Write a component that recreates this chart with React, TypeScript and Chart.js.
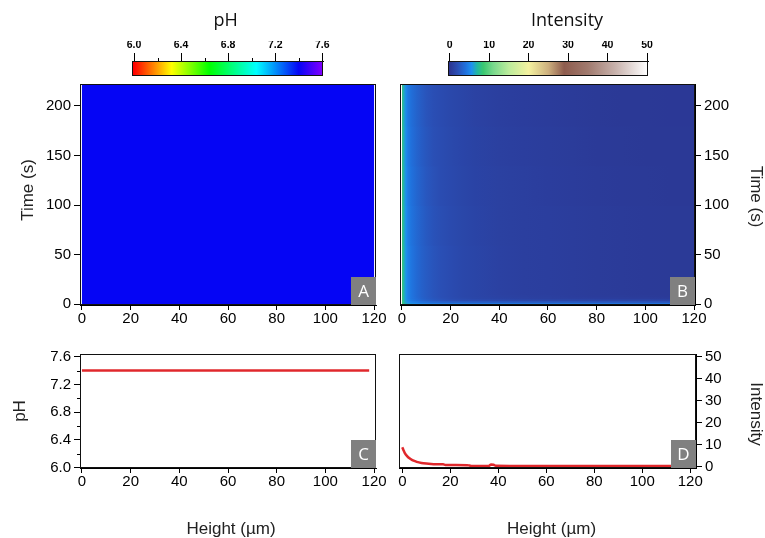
import React, { useEffect, useRef } from "react";
import { Chart, registerables } from "chart.js";

Chart.register(...registerables);

// ---------- tick labels ----------
const heightTicks = [0, 20, 40, 60, 80, 100, 120];
const timeTicks = [0, 50, 100, 150, 200];
const phTicks = [6.0, 6.4, 6.8, 7.2, 7.6];
const phMinorTicks = [6.2, 6.6, 7.0, 7.4];
const intensityTicks = [0, 10, 20, 30, 40, 50];

// ---------- colour scales ----------
const phScaleValues = [6.0, 6.16, 6.32, 6.64, 7.04, 7.4, 7.6];
const phScaleColors = ["#ff0000", "#ff8000", "#ffff00", "#00ff00", "#00ffff", "#0505f5", "#8000ff"];
const intScaleValues = [0, 2, 4, 5.5, 7, 8.5, 11, 15, 20, 25, 29, 35, 42, 50];
const intScaleColors = [
  "#2b3591", "#2a4fb5", "#2070dc", "#1e90f0", "#22b8a0", "#3ac870", "#78d88c",
  "#bcec9c", "#f4f2a0", "#cdb07e", "#8e5c4e", "#a07a6e", "#c8b2ac", "#ffffff",
];

// ---------- panel A : pH map ----------
const phMapHeights = [0, 120];
const phMapTimeEdges = [0, 222];
const phMapValues = [[7.4, 7.4]];

// ---------- panel B : intensity map ----------
const intMapHeights = [0, 0.8, 1.6, 2.5, 4, 6, 8, 10, 13, 16, 20, 25, 30, 40, 50, 60, 70, 80, 90, 100, 110, 120];
const intMapTimeEdges = [0, 2, 4, 6, 8, 10, 60, 100, 140, 180, 222];
const intMapValues = [
  [8.8, 7.6, 6.6, 6.1, 5.8, 5.5, 5.3, 5.1, 5.0, 4.9, 4.8, 4.8, 4.7, 4.7, 4.6, 4.6, 4.6, 4.6, 4.5, 4.5, 4.5, 4.5],
  [8.7, 7.2, 6.1, 5.4, 4.9, 4.5, 4.1, 3.8, 3.5, 3.3, 3.1, 3.0, 2.9, 2.8, 2.7, 2.7, 2.6, 2.6, 2.6, 2.5, 2.5, 2.5],
  [8.6, 6.9, 5.8, 5.0, 4.4, 3.9, 3.4, 3.0, 2.6, 2.3, 2.0, 1.8, 1.7, 1.5, 1.4, 1.3, 1.3, 1.2, 1.2, 1.2, 1.1, 1.1],
  [8.5, 6.8, 5.6, 4.8, 4.2, 3.7, 3.2, 2.8, 2.4, 2.1, 1.8, 1.5, 1.3, 1.1, 0.95, 0.85, 0.75, 0.7, 0.65, 0.6, 0.55, 0.55],
  [8.5, 6.8, 5.6, 4.8, 4.2, 3.6, 3.1, 2.7, 2.3, 2.0, 1.7, 1.4, 1.2, 1.0, 0.85, 0.75, 0.65, 0.55, 0.5, 0.45, 0.4, 0.4],
  [8.5, 6.8, 5.6, 4.8, 4.2, 3.6, 3.1, 2.7, 2.3, 2.0, 1.7, 1.4, 1.2, 0.95, 0.8, 0.7, 0.6, 0.5, 0.45, 0.4, 0.35, 0.35],
  [8.4, 6.7, 5.5, 4.7, 4.1, 3.5, 3.0, 2.6, 2.2, 1.9, 1.6, 1.35, 1.15, 0.9, 0.75, 0.7, 0.6, 0.5, 0.45, 0.4, 0.35, 0.35],
  [8.3, 6.6, 5.4, 4.6, 4.0, 3.4, 2.9, 2.5, 2.1, 1.8, 1.55, 1.3, 1.1, 0.9, 0.75, 0.65, 0.55, 0.45, 0.4, 0.35, 0.3, 0.3],
  [8.2, 6.5, 5.3, 4.5, 3.9, 3.3, 2.8, 2.4, 2.0, 1.75, 1.5, 1.25, 1.05, 0.85, 0.7, 0.6, 0.5, 0.4, 0.35, 0.3, 0.28, 0.28],
  [8.1, 6.4, 5.2, 4.4, 3.8, 3.2, 2.7, 2.3, 1.95, 1.7, 1.45, 1.2, 1.0, 0.8, 0.65, 0.55, 0.45, 0.35, 0.3, 0.28, 0.25, 0.25],
];

// ---------- panel C : pH profile ----------
const phProfileHeights = [0, 20, 40, 60, 80, 100, 118];
const phProfile = [7.4, 7.4, 7.4, 7.4, 7.4, 7.4, 7.4];

// ---------- panel D : intensity profile ----------
const intProfileHeights = [0, 0.5, 1, 2, 3, 4, 5, 6, 8, 10, 12, 14, 17, 18, 22, 27, 28, 29, 33, 36, 37, 38, 39, 45, 60, 80, 100, 120];
const intProfile = [8.8, 7.5, 6.3, 4.8, 3.8, 3.1, 2.6, 2.2, 1.7, 1.4, 1.2, 1.1, 1.05, 0.8, 0.75, 0.7, 0.5, 0.3, 0.3, 0.35, 1.0, 0.9, 0.4, 0.35, 0.3, 0.3, 0.3, 0.3];

// ---------- helpers ----------
const W = 765;
const H = 538;
const TICK_FAMILY = "'Liberation Sans', Arial, Helvetica, sans-serif";
const TITLE_FAMILY = "'Open Sans', 'Liberation Sans', sans-serif";

function hexToRgb(h: string) {
  const n = parseInt(h.slice(1), 16);
  return [(n >> 16) & 255, (n >> 8) & 255, n & 255];
}
function colorAt(v: number, vals: number[], cols: string[]) {
  if (v <= vals[0]) return cols[0];
  if (v >= vals[vals.length - 1]) return cols[cols.length - 1];
  for (let i = 1; i < vals.length; i++) {
    if (v <= vals[i]) {
      const t = (v - vals[i - 1]) / (vals[i] - vals[i - 1]);
      const a = hexToRgb(cols[i - 1]);
      const b = hexToRgb(cols[i]);
      const c = a.map((x, k) => Math.round(x + (b[k] - x) * t));
      return `rgb(${c[0]},${c[1]},${c[2]})`;
    }
  }
  return cols[cols.length - 1];
}

function drawText(ctx: any, s: string, x: number, y: number, font: string, color: string, rot = 0, baseline = "middle") {
  ctx.save();
  ctx.translate(x, y);
  ctx.rotate(rot);
  ctx.font = font;
  ctx.fillStyle = color;
  ctx.textAlign = "center";
  ctx.textBaseline = baseline;
  ctx.fillText(s, 0, 0);
  ctx.restore();
}

function axis(o: {
  position: string; min: number; max: number; ticks: number[]; size: number;
  fontSize?: number; tickLength?: number; padding?: number; digits?: number; display?: boolean; weight?: string;
}) {
  if (o.display === false) return { type: "linear", display: false, min: o.min, max: o.max };
  return {
    type: "linear",
    position: o.position,
    min: o.min,
    max: o.max,
    afterBuildTicks: (s: any) => {
      s.ticks = o.ticks.map((v) => ({ value: v }));
    },
    afterFit: (s: any) => {
      if (s.isHorizontal()) s.height = o.size;
      else s.width = o.size;
    },
    grid: {
      display: true,
      drawOnChartArea: false,
      drawTicks: true,
      tickLength: o.tickLength ?? 6,
      color: "#000",
      tickColor: "#000",
      lineWidth: 1,
    },
    border: { display: true, color: "#000", width: 1 },
    ticks: {
      autoSkip: false,
      maxRotation: 0,
      minRotation: 0,
      padding: o.padding ?? 3,
      color: "#000",
      font: { family: TICK_FAMILY, size: o.fontSize ?? 15, weight: o.weight ?? "normal" },
      callback: (v: any) => (o.digits ? Number(v).toFixed(o.digits) : String(v)),
    },
  };
}

function heatmap(chart: any, heights: number[], edges: number[], grid: number[][], vals: number[], cols: string[]) {
  const { ctx, chartArea, scales } = chart;
  const x = scales.x;
  const y = scales.y;
  ctx.save();
  ctx.beginPath();
  ctx.rect(chartArea.left, chartArea.top, chartArea.right - chartArea.left, chartArea.bottom - chartArea.top);
  ctx.clip();
  const x0 = x.getPixelForValue(heights[0]);
  const x1 = x.getPixelForValue(heights[heights.length - 1]);
  grid.forEach((row, r) => {
    const yb = y.getPixelForValue(edges[r]);
    const yt = y.getPixelForValue(edges[r + 1]);
    const g = ctx.createLinearGradient(x0, 0, x1, 0);
    heights.forEach((h, i) => {
      const px = x.getPixelForValue(h);
      g.addColorStop(Math.min(1, Math.max(0, (px - x0) / (x1 - x0))), colorAt(row[i], vals, cols));
    });
    ctx.fillStyle = g;
    ctx.fillRect(x0, yt, x1 - x0, yb - yt + (r > 0 ? 1 : 0));
  });
  ctx.restore();
}

function frame(chart: any) {
  const { ctx, chartArea } = chart;
  ctx.save();
  ctx.strokeStyle = "#111";
  ctx.lineWidth = 1;
  const l = Math.round(chartArea.left) + 0.5;
  const t = Math.round(chartArea.top) + 0.5;
  const r = Math.round(chartArea.right) - 0.5;
  const b = Math.round(chartArea.bottom) - 0.5;
  ctx.strokeRect(l, t, r - l, b - t);
  ctx.restore();
}

function letterBox(chart: any, letter: string) {
  const { ctx, chartArea } = chart;
  const w = 25;
  const h = 28;
  ctx.save();
  ctx.fillStyle = "#808080";
  ctx.fillRect(chartArea.right - w, chartArea.bottom - h, w, h);
  ctx.restore();
  drawText(ctx, letter, chartArea.right - w / 2, chartArea.bottom - h / 2 + 1, `17px ${TITLE_FAMILY}`, "#fff");
}

function pad(area: { left: number; right: number; top: number; bottom: number }, sides: { left?: number; right?: number; top?: number; bottom?: number }) {
  return {
    left: area.left - (sides.left ?? 0),
    right: W - area.right - (sides.right ?? 0),
    top: area.top - (sides.top ?? 0),
    bottom: H - area.bottom - (sides.bottom ?? 0),
  };
}

function baseOptions(padding: any, scales: any) {
  return {
    responsive: false,
    animation: false,
    devicePixelRatio: 1,
    events: [],
    layout: { padding },
    plugins: { legend: { display: false }, tooltip: { enabled: false }, title: { display: false } },
    scales,
  };
}

const AXIS_TITLE = `17px ${TICK_FAMILY}`;

function configA(): any {
  return {
    type: "scatter",
    data: { datasets: [] },
    options: baseOptions(pad({ left: 80, right: 376, top: 84, bottom: 305 }, { left: 40, bottom: 30 }), {
      x: axis({ position: "bottom", min: -0.8, max: 120.8, ticks: heightTicks, size: 30, tickLength: 5, padding: 0 }),
      y: axis({ position: "left", min: -0.7, max: 222, ticks: timeTicks, size: 40 }),
    }),
    plugins: [
      {
        id: "mapA",
        beforeDatasetsDraw: (c: any) => heatmap(c, phMapHeights, phMapTimeEdges, phMapValues, phScaleValues, phScaleColors),
        afterDatasetsDraw: (c: any) => {
          frame(c);
          letterBox(c, "A");
        },
        afterDraw: (c: any) => drawText(c.ctx, "Time (s)", 28.5, 190, AXIS_TITLE, "#222", -Math.PI / 2),
      },
    ],
  };
}

function configB(): any {
  return {
    type: "scatter",
    data: { datasets: [] },
    options: baseOptions(pad({ left: 400, right: 695, top: 84, bottom: 305 }, { right: 40, bottom: 30 }), {
      x: axis({ position: "bottom", min: -0.82, max: 120.41, ticks: heightTicks, size: 30, tickLength: 5, padding: 0 }),
      y: axis({ position: "right", min: -0.7, max: 222, ticks: timeTicks, size: 40 }),
    }),
    plugins: [
      {
        id: "mapB",
        beforeDatasetsDraw: (c: any) => heatmap(c, intMapHeights, intMapTimeEdges, intMapValues, intScaleValues, intScaleColors),
        afterDatasetsDraw: (c: any) => {
          frame(c);
          letterBox(c, "B");
        },
        afterDraw: (c: any) => drawText(c.ctx, "Time (s)", 755.5, 196.5, AXIS_TITLE, "#222", Math.PI / 2),
      },
    ],
  };
}

function lineDataset(xs: number[], ys: number[]) {
  return {
    data: xs.map((h, i) => ({ x: h, y: ys[i] })),
    showLine: true,
    borderColor: "#e0282c",
    borderWidth: 2.5,
    pointRadius: 0,
    cubicInterpolationMode: "monotone",
    fill: false,
  };
}

function configC(): any {
  return {
    type: "scatter",
    data: { datasets: [lineDataset(phProfileHeights, phProfile)] },
    options: baseOptions(pad({ left: 80, right: 376, top: 354, bottom: 468 }, { left: 40, bottom: 30 }), {
      x: axis({ position: "bottom", min: -0.8, max: 120.8, ticks: heightTicks, size: 30, tickLength: 5, padding: 0 }),
      y: axis({ position: "left", min: 5.996, max: 7.639, ticks: phTicks, size: 40, digits: 1 }),
    }),
    plugins: [
      {
        id: "decoC",
        afterDatasetsDraw: (c: any) => {
          frame(c);
          letterBox(c, "C");
        },
        afterDraw: (c: any) => {
          const { ctx, chartArea, scales } = c;
          ctx.save();
          ctx.strokeStyle = "#000";
          ctx.lineWidth = 1;
          phMinorTicks.forEach((v) => {
            const py = Math.round(scales.y.getPixelForValue(v)) + 0.5;
            ctx.beginPath();
            ctx.moveTo(chartArea.left - 3, py);
            ctx.lineTo(chartArea.left, py);
            ctx.stroke();
          });
          ctx.restore();
          drawText(ctx, "pH", 20, 411, AXIS_TITLE, "#222", -Math.PI / 2);
          drawText(ctx, "Height (µm)", 231, 529.5, AXIS_TITLE, "#222");
        },
      },
    ],
  };
}

function configD(): any {
  return {
    type: "scatter",
    data: { datasets: [lineDataset(intProfileHeights, intProfile)] },
    options: baseOptions(pad({ left: 399, right: 696, top: 354, bottom: 468 }, { right: 40, bottom: 30 }), {
      x: axis({ position: "bottom", min: -1.375, max: 122.4, ticks: heightTicks, size: 30, tickLength: 5, padding: 0 }),
      y: axis({ position: "right", min: -0.6, max: 51.2, ticks: intensityTicks, size: 40 }),
    }),
    plugins: [
      {
        id: "decoD",
        afterDatasetsDraw: (c: any) => {
          frame(c);
          letterBox(c, "D");
        },
        afterDraw: (c: any) => {
          drawText(c.ctx, "Intensity", 755.5, 414, AXIS_TITLE, "#222", Math.PI / 2);
          drawText(c.ctx, "Height (µm)", 551.5, 529.5, AXIS_TITLE, "#222");
        },
      },
    ],
  };
}

function colorbarConfig(
  area: { left: number; right: number; top: number; bottom: number },
  min: number, max: number, ticks: number[], minor: number[], digits: number,
  vals: number[], cols: string[], title: string, titleX: number
): any {
  return {
    type: "scatter",
    data: { datasets: [] },
    options: baseOptions(pad(area, { top: 20 }), {
      x: axis({ position: "top", min, max, ticks, size: 20, fontSize: 10.5, tickLength: 8, padding: 2, digits, weight: "bold" }),
      y: axis({ position: "left", min: 0, max: 1, ticks: [], size: 0, display: false }),
    }),
    plugins: [
      {
        id: "bar-" + title,
        beforeDatasetsDraw: (c: any) => {
          const { ctx, chartArea, scales } = c;
          const x0 = scales.x.getPixelForValue(vals[0]);
          const x1 = scales.x.getPixelForValue(vals[vals.length - 1]);
          const g = ctx.createLinearGradient(x0, 0, x1, 0);
          vals.forEach((v, i) => {
            g.addColorStop((scales.x.getPixelForValue(v) - x0) / (x1 - x0), cols[i]);
          });
          ctx.save();
          ctx.fillStyle = g;
          ctx.fillRect(chartArea.left, chartArea.top, chartArea.right - chartArea.left, chartArea.bottom - chartArea.top);
          ctx.restore();
          frame(c);
        },
        afterDraw: (c: any) => {
          const { ctx, chartArea, scales } = c;
          ctx.save();
          ctx.strokeStyle = "#000";
          ctx.lineWidth = 1;
          minor.forEach((v) => {
            const px = Math.round(scales.x.getPixelForValue(v)) + 0.5;
            ctx.beginPath();
            ctx.moveTo(px, chartArea.top - 3);
            ctx.lineTo(px, chartArea.top);
            ctx.stroke();
          });
          ctx.restore();
          drawText(ctx, title, titleX, 25.7, `18px ${TITLE_FAMILY}`, "#111", 0, "alphabetic");
        },
      },
    ],
  };
}

export default function App() {
  const r1 = useRef<HTMLCanvasElement>(null);
  const r2 = useRef<HTMLCanvasElement>(null);
  const r3 = useRef<HTMLCanvasElement>(null);
  const r4 = useRef<HTMLCanvasElement>(null);
  const r5 = useRef<HTMLCanvasElement>(null);
  const r6 = useRef<HTMLCanvasElement>(null);
  const refs = [r1, r2, r3, r4, r5, r6];

  useEffect(() => {
    const configs = [
      colorbarConfig({ left: 132, right: 323, top: 61, bottom: 75.5 }, 5.983, 7.606, phTicks, phMinorTicks, 1, phScaleValues, phScaleColors, "pH", 225.7),
      colorbarConfig({ left: 448, right: 648, top: 61, bottom: 75.5 }, -0.43, 50.25, intensityTicks, [], 0, intScaleValues, intScaleColors, "Intensity", 567),
      configA(),
      configB(),
      configC(),
      configD(),
    ];
    const charts = configs.map((cfg, i) => new Chart(refs[i].current as HTMLCanvasElement, cfg));
    return () => charts.forEach((c) => c.destroy());
  }, []);

  return (
    <div style={{ position: "fixed", left: 0, top: 0, width: W, height: H, background: "#fff" }}>
      {refs.map((r, i) => (
        <canvas key={i} ref={r} width={W} height={H} style={{ position: "absolute", left: 0, top: 0, width: W, height: H }} />
      ))}
    </div>
  );
}
